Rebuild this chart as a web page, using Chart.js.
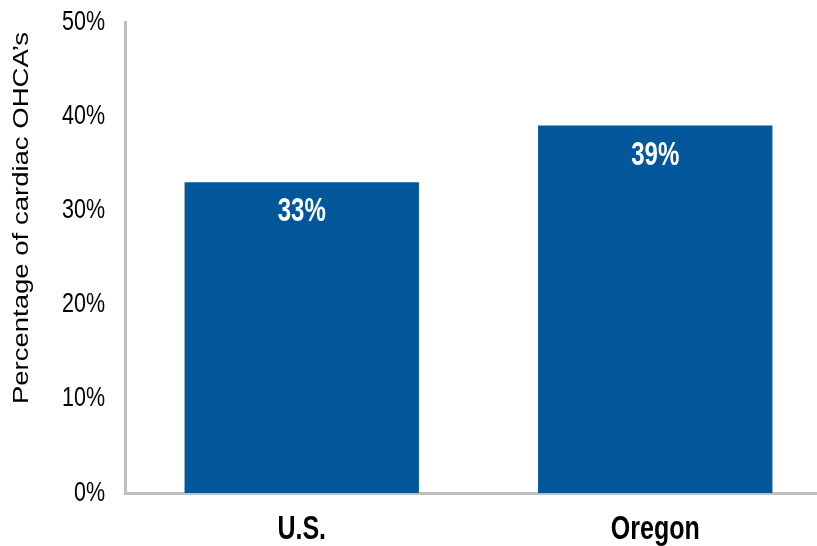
<!DOCTYPE html>
<html>
<head>
<meta charset="utf-8">
<script src="https://cdn.jsdelivr.net/npm/chart.js@4.4.0/dist/chart.umd.min.js"></script>
<style>
  html, body { margin: 0; padding: 0; background: #fff; overflow: hidden; }
  #wrap { width: 832px; height: 546px; position: relative; }
</style>
</head>
<body>
<div id="wrap"><canvas id="chart"></canvas></div>
<script>
const categories = ['U.S.', 'Oregon'];
const values = [33, 39];
const yTicks = [0, 10, 20, 30, 40, 50];
const yTitle = 'Percentage of cardiac OHCA\u2019s';

const barColor = '#02569A';
const FONT = '"Liberation Sans", Arial, sans-serif';

// the source picture is stretched vertically, so text is drawn taller than wide
function stretchedText(ctx, text, x, y, font, sy, align) {
  ctx.save();
  ctx.translate(x, y);
  ctx.scale(1, sy);
  ctx.font = font;
  ctx.textAlign = align || 'center';
  ctx.textBaseline = 'middle';
  ctx.fillText(text, 0, 0);
  ctx.restore();
}

const textLayer = {
  id: 'textLayer',
  afterDraw(chart) {
    const {ctx, chartArea, scales} = chart;
    const meta = chart.getDatasetMeta(0);

    // value labels inside the bars
    ctx.fillStyle = '#fff';
    meta.data.forEach((bar, i) => {
      stretchedText(ctx, values[i] + '%', bar.x, bar.y + 30, 'bold 24px ' + FONT, 1.38);
    });

    // y tick labels
    ctx.fillStyle = '#000';
    yTicks.forEach(v => {
      stretchedText(ctx, v + '%', chartArea.left - 20, scales.y.getPixelForValue(v), '21.5px ' + FONT, 1.3, 'right');
    });

    // category labels
    categories.forEach((c, i) => {
      stretchedText(ctx, c, scales.x.getPixelForValue(i), chartArea.bottom + 37, 'bold 25px ' + FONT, 1.33);
    });

    // rotated axis title (stretched along its length)
    ctx.save();
    ctx.translate(22, 218);
    ctx.rotate(-Math.PI / 2);
    ctx.scale(1.28, 1);
    ctx.font = '21.5px ' + FONT;
    ctx.textAlign = 'center';
    ctx.textBaseline = 'middle';
    ctx.fillStyle = '#000';
    ctx.fillText(yTitle, 0, 0);
    ctx.restore();
  }
};

new Chart(document.getElementById('chart'), {
  type: 'bar',
  data: {
    labels: categories,
    datasets: [{
      data: values,
      backgroundColor: barColor,
      borderWidth: 0,
      barPercentage: 0.663,
      categoryPercentage: 1
    }]
  },
  options: {
    responsive: true,
    maintainAspectRatio: false,
    animation: false,
    layout: {padding: {top: 22, left: 0, right: 0, bottom: 0}},
    plugins: {
      legend: {display: false},
      tooltip: {enabled: false}
    },
    scales: {
      x: {
        grid: {display: false},
        border: {display: true, color: '#BFBFBF', width: 3},
        ticks: {display: false},
        afterFit: (axis) => { axis.height = 53; }
      },
      y: {
        min: 0,
        max: 50,
        afterBuildTicks: (axis) => { axis.ticks = yTicks.map(v => ({value: v})); },
        grid: {display: false},
        border: {display: true, color: '#BFBFBF', width: 3},
        ticks: {display: false},
        afterFit: (axis) => { axis.width = 125; }
      }
    }
  },
  plugins: [textLayer]
});
</script>
</body>
</html>
